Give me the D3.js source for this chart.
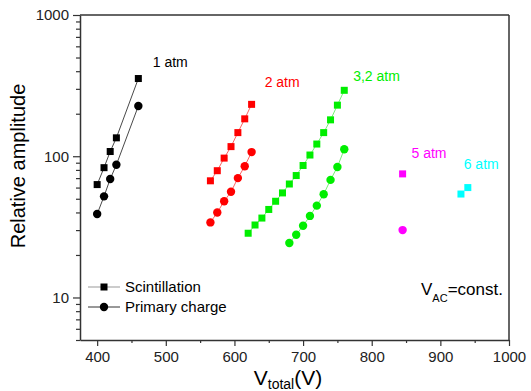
<!DOCTYPE html>
<html>
<head>
<meta charset="utf-8">
<script src="https://cdn.jsdelivr.net/npm/d3@7"></script>
<style>
  body { margin: 0; background: #fff; }
  svg text { font-family: "Liberation Sans", Arial, sans-serif; }
</style>
</head>
<body>
<div id="chart"></div>
<script>
// data
const seriesNames = ['1 atm', '2 atm', '3,2 atm', '5 atm', '6 atm'];
const seriesColors = ['#000000', '#ff0000', '#00ee00', '#ff00ff', '#00ffff'];
const lineColors = ['#333333', '#ff5050', '#66ee66', null, null];

const scintV1 = [400, 410, 419, 428, 460];
const scintA1 = [63, 83, 108, 135, 355];
const chargeV1 = [400, 410, 419, 428, 460];
const chargeA1 = [39, 52, 69, 87, 227];

const scintV2 = [565, 575, 585, 595, 605, 615, 625];
const scintA2 = [67, 79, 97, 117, 147, 184, 233];
const chargeV2 = [565, 575, 585, 595, 605, 615, 625];
const chargeA2 = [34, 40, 48, 56, 70, 85, 107];

const scintV32 = [620, 630, 640, 650, 660, 670, 680, 690, 700, 710, 720, 730, 740, 750, 760];
const scintA32 = [28.5, 32.6, 36.5, 42, 48, 55, 63.6, 73, 86, 102, 122, 147, 181, 230, 293];
const chargeV32 = [680, 690, 700, 710, 720, 730, 740, 750, 760];
const chargeA32 = [24.3, 27.8, 32.2, 37.8, 44.7, 53.8, 68, 84, 112];

const scintV5 = [845];
const scintA5 = [75];
const chargeV5 = [845];
const chargeA5 = [30];

const scintV6 = [930, 940];
const scintA6 = [54, 60];
const chargeV6 = [];
const chargeA6 = [];

// where each pressure label sits, in data units
const labelV = [481, 644, 773, 858, 934];
const labelA = [430, 310, 343, 97, 81];

const xTicks = [400, 500, 600, 700, 800, 900, 1000];
const yTicks = [10, 100, 1000];

const scint = [[scintV1, scintA1], [scintV2, scintA2], [scintV32, scintA32], [scintV5, scintA5], [scintV6, scintA6]];
const charge = [[chargeV1, chargeA1], [chargeV2, chargeA2], [chargeV32, chargeA32], [chargeV5, chargeA5], [chargeV6, chargeA6]];

const width = 531, height = 391;
const margin = { top: 15, right: 22, bottom: 51, left: 80 };

const svg = d3.select('#chart').append('svg')
  .attr('width', width).attr('height', height);

const x = d3.scaleLinear().domain([375, 1000]).range([margin.left, width - margin.right]);
const y = d3.scaleLog().domain([5, 1000]).range([height - margin.bottom, margin.top]);

const axisColor = '#333';

// minor ticks
const xMinor = d3.range(450, 1000, 100);
const yMinor = [];
[1, 10, 100].forEach(d => { for (let k = 2; k <= 9; k++) { if (d * k >= 5 && d * k < 1000) yMinor.push(d * k); } });

svg.append('g')
  .attr('transform', `translate(0,${height - margin.bottom})`)
  .call(d3.axisBottom(x).tickValues(xTicks).tickFormat(d3.format('d')).tickSize(6).tickPadding(5).tickSizeOuter(0));
svg.append('g')
  .attr('transform', `translate(0,${height - margin.bottom})`)
  .call(d3.axisBottom(x).tickValues(xMinor).tickSize(3).tickFormat('').tickSizeOuter(0))
  .select('.domain').remove();

svg.append('g')
  .attr('transform', `translate(${margin.left},0)`)
  .call(d3.axisLeft(y).tickValues(yTicks).tickFormat(d3.format('d')).tickSize(7).tickPadding(4).tickSizeOuter(0));
svg.append('g')
  .attr('transform', `translate(${margin.left},0)`)
  .call(d3.axisLeft(y).tickValues(yMinor).tickSize(4).tickFormat('').tickSizeOuter(0))
  .select('.domain').remove();

svg.selectAll('.tick line').attr('stroke', axisColor).attr('stroke-width', 1.2);
svg.selectAll('.domain').attr('stroke', axisColor).attr('stroke-width', 1.5);
svg.selectAll('.tick text').attr('font-size', 15).attr('fill', '#222')
  .style('font-family', '"Liberation Sans", Arial, sans-serif');

// top and right frame lines
svg.append('line')
  .attr('x1', x(375)).attr('x2', x(1000)).attr('y1', y(1000)).attr('y2', y(1000))
  .attr('stroke', axisColor).attr('stroke-width', 1.5);
svg.append('line')
  .attr('x1', x(1000)).attr('x2', x(1000)).attr('y1', y(1000)).attr('y2', y(5))
  .attr('stroke', axisColor).attr('stroke-width', 1.5);

const line = d3.line().x(d => x(d[0])).y(d => y(d[1]));
const sq = 7;

seriesNames.forEach((name, i) => {
  const s = d3.zip(scint[i][0], scint[i][1]);
  const c = d3.zip(charge[i][0], charge[i][1]);
  const g = svg.append('g');
  if (lineColors[i]) {
    [s, c].forEach(pts => {
      g.append('path').datum(pts).attr('d', line)
        .attr('fill', 'none').attr('stroke', lineColors[i]).attr('stroke-width', 0.9);
    });
  }
  g.selectAll('.sq').data(s).enter().append('rect')
    .attr('x', d => x(d[0]) - sq / 2).attr('y', d => y(d[1]) - sq / 2)
    .attr('width', sq).attr('height', sq).attr('fill', seriesColors[i]);
  g.selectAll('.ci').data(c).enter().append('circle')
    .attr('cx', d => x(d[0])).attr('cy', d => y(d[1])).attr('r', 4.2)
    .attr('fill', seriesColors[i]);
  svg.append('text')
    .attr('x', x(labelV[i])).attr('y', y(labelA[i]))
    .attr('font-size', 14).attr('fill', seriesColors[i])
    .text(name);
});

// legend
const legend = svg.append('g');
const legendItems = [
  { label: 'Scintillation', shape: 'square', ly: 287, stroke: '#999' },
  { label: 'Primary charge', shape: 'circle', ly: 307, stroke: '#333' }
];
legendItems.forEach(it => {
  legend.append('line').attr('x1', 88).attr('x2', 120).attr('y1', it.ly).attr('y2', it.ly)
    .attr('stroke', it.stroke).attr('stroke-width', 1);
  if (it.shape === 'square') {
    legend.append('rect').attr('x', 104 - sq / 2).attr('y', it.ly - sq / 2)
      .attr('width', sq).attr('height', sq).attr('fill', '#000');
  } else {
    legend.append('circle').attr('cx', 104).attr('cy', it.ly).attr('r', 4.2).attr('fill', '#000');
  }
  legend.append('text').attr('x', 125).attr('y', it.ly + 5).attr('font-size', 15)
    .attr('fill', '#000').text(it.label);
});

// annotation V_AC = const.
const vac = svg.append('text').attr('x', 421).attr('y', 295).attr('font-size', 17).attr('fill', '#000');
vac.append('tspan').text('V');
vac.append('tspan').attr('font-size', 11).attr('dy', 7).text('AC');
vac.append('tspan').attr('dy', -7).text('=const.');

// axis titles
const xt = svg.append('text').attr('x', 288).attr('y', 385).attr('text-anchor', 'middle')
  .attr('font-size', 21).attr('fill', '#000');
xt.append('tspan').text('V');
xt.append('tspan').attr('font-size', 14).attr('dy', 4).text('total');
xt.append('tspan').attr('dy', -4).text('(V)');

svg.append('text')
  .attr('transform', 'translate(25,166) rotate(-90)')
  .attr('text-anchor', 'middle').attr('font-size', 20).attr('fill', '#000')
  .text('Relative amplitude');
</script>
</body>
</html>
